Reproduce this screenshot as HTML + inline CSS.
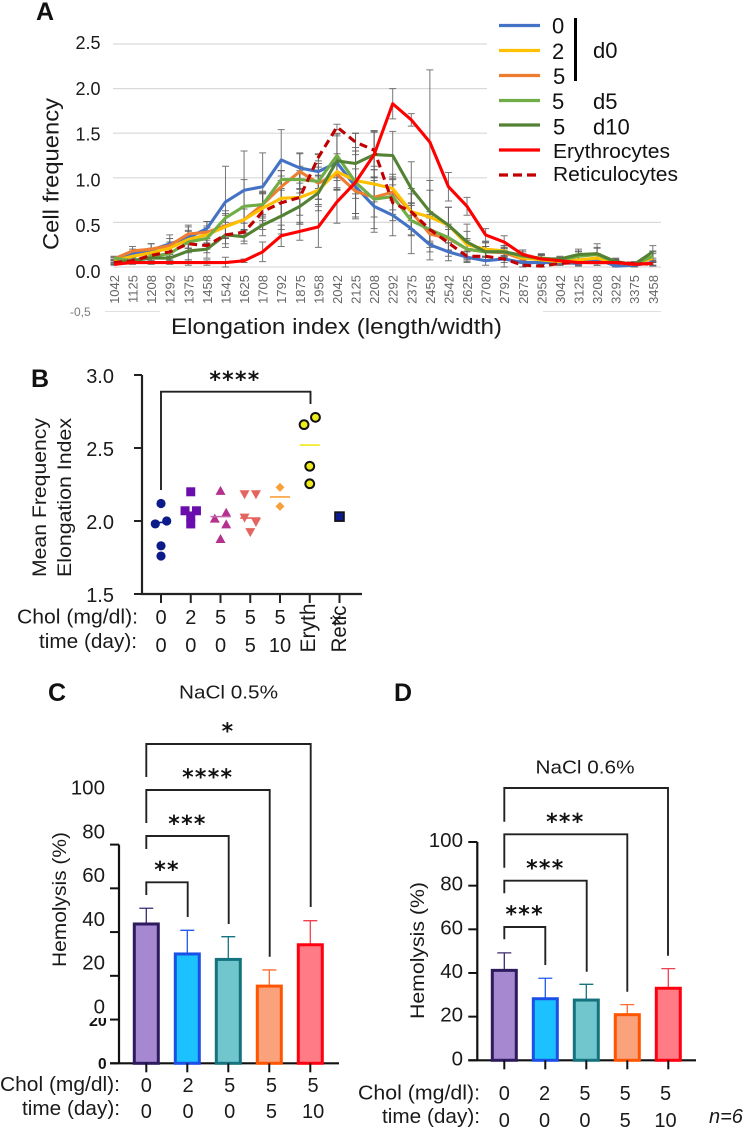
<!DOCTYPE html>
<html lang="en">
<head>
<meta charset="utf-8">
<title>Elongation index and hemolysis figure</title>
<style>
html,body{margin:0;padding:0;background:#fff;}
svg{display:block;font-family:"Liberation Sans",sans-serif;}
.ltr{font-weight:bold;font-size:25px;fill:#111;}
.ax{font-size:20px;fill:#1a1a1a;}
.star{font-family:"DejaVu Sans",sans-serif;font-weight:bold;font-size:22px;fill:#111;text-anchor:middle;letter-spacing:1.3px;}
.brk{fill:none;stroke:#222;stroke-width:1.9;}
</style>
</head>
<body>
<svg id="fig" xmlns="http://www.w3.org/2000/svg" width="751" height="1139" viewBox="0 0 751 1139">
  <rect x="0" y="0" width="751" height="1139" fill="#ffffff"/>

  <!-- Panel A static -->
  <text class="ltr" x="36" y="20">A</text>
  <g id="a-grid"></g>
  <g id="a-err"></g>
  <g id="a-lines"></g>
  <g id="a-ticks"></g>
  <text transform="translate(58.5,250) rotate(-90)" font-size="22.5" fill="#1a1a1a" textLength="152" lengthAdjust="spacingAndGlyphs">Cell frequency</text>
  <text x="171" y="334" font-size="22" fill="#1a1a1a" textLength="331" lengthAdjust="spacingAndGlyphs">Elongation index (length/width)</text>
  <text x="70" y="316" font-size="12" fill="#7a7a7a">-0,5</text>
  <line x1="105" y1="311.5" x2="160" y2="311.5" stroke="#e0e0e0"/>
  <line x1="543" y1="311.5" x2="661" y2="311.5" stroke="#e0e0e0"/>

  <!-- Legend -->
  <g>
    <line x1="499" y1="25.5" x2="540" y2="25.5" stroke="#4472c4" stroke-width="3.2"/>
    <line x1="499" y1="50.5" x2="540" y2="50.5" stroke="#ffc000" stroke-width="3.2"/>
    <line x1="499" y1="75.5" x2="540" y2="75.5" stroke="#ed7d31" stroke-width="3.2"/>
    <line x1="499" y1="100.5" x2="540" y2="100.5" stroke="#70ad47" stroke-width="3.2"/>
    <line x1="499" y1="125" x2="540" y2="125" stroke="#548235" stroke-width="3.2"/>
    <line x1="499" y1="150" x2="540" y2="150" stroke="#ff0000" stroke-width="3.2"/>
    <line x1="499" y1="175" x2="540" y2="175" stroke="#c00000" stroke-width="3.2" stroke-dasharray="9 5"/>
    <text x="552" y="33.5" font-size="22" fill="#111">0</text>
    <text x="552" y="59" font-size="22" fill="#111">2</text>
    <text x="553" y="84" font-size="22" fill="#111">5</text>
    <text x="552" y="109" font-size="22" fill="#111">5</text>
    <text x="553" y="134.5" font-size="22" fill="#111">5</text>
    <rect x="574" y="18" width="3" height="63" fill="#000"/>
    <text x="593" y="58" font-size="22" fill="#111">d0</text>
    <text x="593" y="109" font-size="22" fill="#111">d5</text>
    <text x="593" y="134.5" font-size="22" fill="#111">d10</text>
    <text x="553" y="158" font-size="20" fill="#111" textLength="117" lengthAdjust="spacingAndGlyphs">Erythrocytes</text>
    <text x="553" y="181" font-size="20" fill="#111" textLength="125" lengthAdjust="spacingAndGlyphs">Reticulocytes</text>
  </g>

  <!-- Panel B static -->
  <text class="ltr" x="31" y="387">B</text>
  <text transform="translate(46,577) rotate(-90)" font-size="19" fill="#1a1a1a" textLength="159" lengthAdjust="spacingAndGlyphs">Mean Frequency</text>
  <text transform="translate(71,577) rotate(-90)" font-size="19" fill="#1a1a1a" textLength="159" lengthAdjust="spacingAndGlyphs">Elongation Index</text>
  <g id="b-axes"></g>
  <g id="b-points"></g>
  <path class="brk" d="M161 490V391.7H310.5V404"/>
  <text class="star" x="235" y="387">****</text>
  <text class="ax" x="17" y="623.5" textLength="121" lengthAdjust="spacingAndGlyphs">Chol (mg/dl):</text>
  <text class="ax" x="39" y="648" textLength="98" lengthAdjust="spacingAndGlyphs">time (day):</text>
  <text transform="translate(315,652.5) rotate(-90)" font-size="21" fill="#1a1a1a" textLength="49" lengthAdjust="spacingAndGlyphs">Eryth</text>
  <text transform="translate(346,652.5) rotate(-90)" font-size="21" fill="#1a1a1a" textLength="47" lengthAdjust="spacingAndGlyphs">Retic</text>
  <text x="331" y="626" font-size="19" fill="#1a1a1a">×</text>

  <!-- Panel C static -->
  <text class="ltr" x="48" y="701">C</text>
  <text x="179" y="698.5" font-size="18.5" fill="#1a1a1a" textLength="99" lengthAdjust="spacingAndGlyphs">NaCl 0.5%</text>
  <text transform="translate(66,967) rotate(-90)" font-size="19.5" fill="#1a1a1a" textLength="135" lengthAdjust="spacingAndGlyphs">Hemolysis (%)</text>
  <g id="c-chart"></g>
  <clipPath id="c-clip"><rect x="85" y="1018" width="30" height="10"/></clipPath>
  <text x="89" y="1026" font-size="16" font-weight="bold" fill="#111" clip-path="url(#c-clip)">20</text>
  <text x="98" y="1069" font-size="15.5" font-weight="bold" fill="#111">0</text>
  <path class="brk" d="M146.3 895V882.3H187.7V917"/>
  <path class="brk" d="M146.3 849V836H228.7V924"/>
  <path class="brk" d="M146.3 823V790H269.7V956.7"/>
  <path class="brk" d="M146.3 777V744H310.7V907"/>
  <text class="star" x="167" y="877">**</text>
  <text class="star" x="187.5" y="831">***</text>
  <text class="star" x="207.7" y="784.5">****</text>
  <text class="star" x="228" y="738.5">*</text>
  <text class="ax" x="0" y="1091" textLength="120" lengthAdjust="spacingAndGlyphs">Chol (mg/dl):</text>
  <text class="ax" x="22" y="1115" textLength="98" lengthAdjust="spacingAndGlyphs">time (day):</text>

  <!-- Panel D static -->
  <text class="ltr" x="394" y="701">D</text>
  <text x="535.5" y="773.5" font-size="18.5" fill="#1a1a1a" textLength="99" lengthAdjust="spacingAndGlyphs">NaCl 0.6%</text>
  <text transform="translate(424,1019) rotate(-90)" font-size="19.5" fill="#1a1a1a" textLength="137" lengthAdjust="spacingAndGlyphs">Hemolysis (%)</text>
  <g id="d-chart"></g>
  <path class="brk" d="M504.3 939.3V927H545.3V965"/>
  <path class="brk" d="M504.3 893.3V880.7H586.7V971.7"/>
  <path class="brk" d="M504.3 867.7V834.3H627.3V991.7"/>
  <path class="brk" d="M504.3 821.7V788H668V955.7"/>
  <text class="star" x="524.7" y="921.5">***</text>
  <text class="star" x="545.3" y="875.5">***</text>
  <text class="star" x="565.3" y="829">***</text>
  <text class="ax" x="358" y="1099.5" textLength="122" lengthAdjust="spacingAndGlyphs">Chol (mg/dl):</text>
  <text class="ax" x="382" y="1123" textLength="98" lengthAdjust="spacingAndGlyphs">time (day):</text>
  <text x="709" y="1123" font-size="20" font-style="italic" fill="#1a1a1a">n=6</text>
</svg>

<script>
/* ---------- Panel A data ---------- */
const aCategories = [1042,1125,1208,1292,1375,1458,1542,1625,1708,1792,1875,1958,2042,2125,2208,2292,2375,2458,2542,2625,2708,2792,2875,2958,3042,3125,3208,3292,3375,3458];
const aYTicks = [0,0.5,1,1.5,2,2.5];
const aChol0 = [.08,.15,.19,.26,.33,.43,.73,.86,.9,1.2,1.11,1.07,1.17,.9,.68,.58,.43,.25,.17,.11,.07,.09,.05,.05,.05,.04,.09,.01,.02,.05];
const aChol2 = [.07,.12,.16,.21,.31,.36,.45,.53,.66,.77,.78,.86,1.07,.97,.93,.88,.62,.56,.47,.25,.2,.18,.1,.08,.06,.08,.1,.05,.03,.1];
const aChol5D0 = [.09,.18,.2,.24,.37,.39,.46,.53,.7,.9,1.07,.94,1.04,.85,.78,.84,.62,.37,.32,.2,.17,.16,.09,.1,.08,.13,.15,.05,.03,.12];
const aChol5D5 = [.1,.07,.12,.15,.28,.32,.55,.68,.7,.98,.98,.96,1.25,.95,.76,.79,.52,.42,.33,.2,.17,.17,.12,.1,.08,.12,.14,.05,.03,.12];
const aChol5D10 = [.05,.07,.1,.1,.18,.2,.36,.34,.47,.57,.68,.83,1.19,1.16,1.26,1.25,.88,.62,.47,.28,.17,.17,.13,.09,.09,.14,.15,.06,.03,.17];
const aEryth = [.03,.05,.05,.05,.05,.05,.05,.07,.17,.35,.4,.45,.73,.95,1.26,1.83,1.65,1.4,.9,.68,.36,.28,.14,.09,.07,.05,.05,.05,.03,.04];
const aRetic = [.05,.07,.13,.17,.26,.24,.36,.39,.62,.72,.78,1.23,1.57,1.4,1.31,.72,.62,.42,.27,.12,.12,.09,.02,.01,.04,.05,.05,.05,.04,.03];
const aErrChol0 = [.03,.05,.07,.1,.12,.08,.4,.44,.38,.34,.17,.19,.3,.36,.29,.23,.28,.17,.1,.06,.05,.1,.06,.05,.03,.03,.04,.04,.02,.03];
const aErrChol2 = [.02,.04,.05,.07,.1,.1,.13,.15,.18,.2,.2,.16,.2,.2,.2,.13,.26,.3,.2,.15,.08,.06,.05,.05,.03,.04,.05,.03,.02,.05];
const aErrChol5D0 = [.02,.05,.06,.08,.1,.12,.14,.12,.15,.18,.2,.18,.18,.25,.22,.2,.2,.2,.13,.12,.06,.05,.05,.04,.03,.05,.06,.03,.02,.05];
const aErrChol5D5 = [.02,.03,.05,.07,.12,.12,.08,.3,.13,.1,.15,.2,.25,.35,.33,.2,.17,.13,.15,.1,.06,.05,.05,.05,.03,.05,.08,.04,.02,.06];
const aErrChol5D10 = [.02,.03,.05,.06,.1,.1,.14,.08,.12,.2,.2,.2,.3,.34,.25,.27,.3,.35,.2,.2,.1,.07,.06,.05,.03,.06,.11,.04,.02,.07];
const aErrEryth = [.01,.02,.02,.02,.03,.03,.06,.02,.11,.12,.1,.23,.24,.39,.26,.17,.07,.81,.16,.1,.07,.07,.05,.04,.02,.03,.03,.02,.01,.02];
const aErrRetic = [.02,.03,.03,.05,.05,.08,.1,.1,.2,.3,.3,.04,.03,.1,.22,.2,.1,.2,.15,.06,.05,.04,.02,.02,.02,.03,.03,.03,.02,.02];

/* ---------- Panel B data ---------- */
const bYTicks = [1.5,2,2.5,3];
const bChol = ["0","2","5","5","5"];
const bTime = ["0","0","0","5","10"];
const bGroup0 = [2.12,2.0,1.98,1.83,1.76];
const bGroup2 = [2.2,2.07,2.07,2.03,1.98];
const bGroup5D0 = [2.21,2.06,2.02,1.98,1.88];
const bGroup5D5 = [2.18,2.18,2.02,1.99,1.92];
const bGroup5D10 = [2.23,2.1];
const bEryth = [2.71,2.66,2.375,2.255];
const bRetic = [2.03];
const bMeans = [1.99,2.06,2.03,2.02,2.165,2.52,2.03];
const bSlots0 = [0,1,-1,0,0];
const bSlots2 = [0,-1,1,0,0];
const bSlots5D0 = [0,1,-1,1,0];
const bSlots5D5 = [-1,1,-1,1,0];
const bSlots5D10 = [0,0];
const bSlotsEryth = [1,-1,0,0];
const bSlotsRetic = [0];

/* ---------- Panels C and D data ---------- */
const hemoTicks = [0,20,40,60,80,100];
const hemoChol = ["0","2","5","5","5"];
const hemoTime = ["0","0","0","5","10"];
const cValues = [63.7,50,47.5,35.3,54.2];
const cErrors = [7.2,10.8,10.4,7.4,11];
const dValues = [41.2,28.2,27.6,20.9,33];
const dErrors = [8,9.4,7.2,4.6,9];

/* ---------- helpers ---------- */
const NS = 'http://www.w3.org/2000/svg';
function svgEl(tag, attrs, parent) {
  const e = document.createElementNS(NS, tag);
  for (const k in attrs) e.setAttribute(k, attrs[k]);
  parent.appendChild(e);
  return e;
}
const $ = id => document.getElementById(id);

/* ---------- Panel A ---------- */
const ax = i => 114 + i * 18.58;
const ay = v => 267 - v * 89.2;
const aLabelY = v => 278 - v * 91.6;

aYTicks.forEach(t => {
  const xEnd = t <= 0.5 ? 661 : 487;
  const grid = svgEl('line', {x1: 113, x2: xEnd, y1: ay(t), y2: ay(t), stroke: '#d9d9d9', 'stroke-width': 1.2}, $('a-grid'));
  
  
  const lab = svgEl('text', {x: 100.5, y: aLabelY(t), 'text-anchor': 'end', 'font-size': 18, fill: '#1a1a1a'}, $('a-ticks'));
  lab.textContent = t.toFixed(1);
  
  
});

aCategories.forEach((c, i) => {
  const lab = svgEl('text', {transform: 'translate(' + (ax(i) + 5) + ',275) rotate(-90)', 'text-anchor': 'end', 'font-size': 13, fill: '#666666'}, $('a-ticks'));
  lab.textContent = c;
  
  
});

const aSeries = [
  {key: 'chol-0', v: aChol0, e: aErrChol0, c: '#4472c4'},
  {key: 'chol-5-d0', v: aChol5D0, e: aErrChol5D0, c: '#ed7d31'},
  {key: 'chol-2', v: aChol2, e: aErrChol2, c: '#ffc000'},
  {key: 'chol-5-d5', v: aChol5D5, e: aErrChol5D5, c: '#70ad47'},
  {key: 'chol-5-d10', v: aChol5D10, e: aErrChol5D10, c: '#548235'},
  {key: 'reticulocytes', v: aRetic, e: aErrRetic, c: '#c00000', dash: '8 5'},
  {key: 'erythrocytes', v: aEryth, e: aErrEryth, c: '#ff0000'}
];

aSeries.forEach(s => {
  s.v.forEach((v, i) => {
    const top = ay(v + s.e[i]), bot = ay(Math.max(v - s.e[i], 0));
    const x = ax(i);
    const eb = svgEl('path', {d: 'M' + x + ' ' + top + 'V' + bot + 'M' + (x - 3.5) + ' ' + top + 'H' + (x + 3.5) + 'M' + (x - 3.5) + ' ' + bot + 'H' + (x + 3.5), stroke: '#5f5f5f', 'stroke-width': 1, fill: 'none', opacity: 0.85}, $('a-err'));
    
    
  });
  const attrs = {points: s.v.map((v, i) => ax(i) + ',' + ay(v)).join(' '), fill: 'none', stroke: s.c, 'stroke-width': 3.1, 'stroke-linejoin': 'round'};
  if (s.dash) attrs['stroke-dasharray'] = s.dash;
  const line = svgEl('polyline', attrs, $('a-lines'));
  
  
});

/* ---------- Panel B ---------- */
const bx = i => 161 + i * 29.75;
const by = v => 521 - (v - 2) * 146;
const bAxes = $('b-axes');

const bYLine = svgEl('path', {d: 'M142 ' + by(3) + 'V' + by(1.5) + 'H362', stroke: '#222', 'stroke-width': 2.2, fill: 'none'}, bAxes);



bYTicks.forEach(t => {
  const tick = svgEl('line', {x1: 134, x2: 142, y1: by(t), y2: by(t), stroke: '#222', 'stroke-width': 2}, bAxes);
  
  
  const lab = svgEl('text', {x: 114, y: by(t) + 8, 'text-anchor': 'end', 'font-size': 20, fill: '#1a1a1a'}, bAxes);
  lab.textContent = t.toFixed(1);
  
  
});

for (let i = 0; i < 7; i++) {
  const tick = svgEl('line', {x1: bx(i), x2: bx(i), y1: 594, y2: 603, stroke: '#222', 'stroke-width': 2}, bAxes);
  
  
}

bChol.forEach((t, i) => {
  const lab = svgEl('text', {x: bx(i), y: 624, 'text-anchor': 'middle', 'font-size': 20, fill: '#1a1a1a'}, bAxes);
  lab.textContent = t;
  
  
});
bTime.forEach((t, i) => {
  const lab = svgEl('text', {x: bx(i), y: 652, 'text-anchor': 'middle', 'font-size': 20, fill: '#1a1a1a'}, bAxes);
  lab.textContent = t;
  
  
});

function marker(shape, x, y, color, parent) {
  if (shape === 'circle') return svgEl('circle', {cx: x, cy: y, r: 4.6, fill: color}, parent);
  if (shape === 'ring') return svgEl('circle', {cx: x, cy: y, r: 4.4, fill: color, stroke: '#111', 'stroke-width': 2}, parent);
  if (shape === 'square') return svgEl('rect', {x: x - 4.5, y: y - 4.5, width: 9, height: 9, fill: color}, parent);
  if (shape === 'boxed') return svgEl('rect', {x: x - 4.5, y: y - 4.5, width: 9, height: 9, fill: color, stroke: '#111', 'stroke-width': 1.6}, parent);
  if (shape === 'up') return svgEl('polygon', {points: (x - 5) + ',' + (y + 4.5) + ' ' + (x + 5) + ',' + (y + 4.5) + ' ' + x + ',' + (y - 4.5), fill: color}, parent);
  if (shape === 'down') return svgEl('polygon', {points: (x - 5) + ',' + (y - 4.5) + ' ' + (x + 5) + ',' + (y - 4.5) + ' ' + x + ',' + (y + 4.5), fill: color}, parent);
  return svgEl('polygon', {points: (x - 4.5) + ',' + y + ' ' + x + ',' + (y - 4.5) + ' ' + (x + 4.5) + ',' + y + ' ' + x + ',' + (y + 4.5), fill: color}, parent);
}

const bGroups = [
  {key: 'chol-0-d0', v: bGroup0, s: bSlots0, shape: 'circle', c: '#0c1a8a', lc: '#0c1a8a'},
  {key: 'chol-2-d0', v: bGroup2, s: bSlots2, shape: 'square', c: '#6a0dad', lc: '#6a0dad'},
  {key: 'chol-5-d0', v: bGroup5D0, s: bSlots5D0, shape: 'up', c: '#b5308f', lc: '#c668ae'},
  {key: 'chol-5-d5', v: bGroup5D5, s: bSlots5D5, shape: 'down', c: '#e4655f', lc: '#e4655f'},
  {key: 'chol-5-d10', v: bGroup5D10, s: bSlots5D10, shape: 'diamond', c: '#f7a03c', lc: '#f7a03c'},
  {key: 'erythrocytes', v: bEryth, s: bSlotsEryth, shape: 'ring', c: '#f0ec1c', lc: '#f0ec1c'},
  {key: 'reticulocytes', v: bRetic, s: bSlotsRetic, shape: 'boxed', c: '#0c1a8a', lc: '#0c1a8a'}
];

bGroups.forEach((g, gi) => {
  g.v.forEach((v, i) => {
    const pt = marker(g.shape, bx(gi) + g.s[i] * 5.7, by(v), g.c, $('b-points'));
    
    
  });
  if (g.v.length > 1) {
    const mean = svgEl('line', {x1: bx(gi) - 10, x2: bx(gi) + 10, y1: by(bMeans[gi]), y2: by(bMeans[gi]), stroke: g.lc, 'stroke-width': 1.6}, $('b-points'));
    
    
  }
});

/* ---------- Panels C and D ---------- */
const barFill = ['#a588d0', '#1cc2ff', '#70c6cc', '#faa27c', '#ff7b85'];
const barStroke = ['#2e1a5e', '#1a4fe8', '#14737f', '#ff5500', '#ff0010'];
const errStroke = ['#3b2a6e', '#1f5af0', '#14737f', '#ff6a30', '#f04050'];

function barChart(opt) {
  const g = $(opt.host);
  const x = i => opt.x0 + i * opt.dx;
  const y = v => opt.y0 - v * opt.k;

  const axisLine = svgEl('path', {d: 'M' + opt.axisX + ' ' + y(100) + 'V' + opt.y0 + 'M' + (opt.axisX - 9) + ' ' + opt.y0 + 'H' + opt.xEnd, stroke: '#111', 'stroke-width': 2.2, fill: 'none'}, g);
  
  

  hemoTicks.forEach(t => {
    const tick = svgEl('line', {x1: opt.axisX - 9, x2: opt.axisX, y1: y(t), y2: y(t), stroke: '#111', 'stroke-width': 2}, g);
    
    
    const lab = svgEl('text', {x: opt.labelX, y: y(t) + opt.labelShift + 7.5, 'text-anchor': 'end', 'font-size': 20.5, fill: '#1a1a1a'}, g);
    lab.textContent = t;
    
    
  });

  opt.values.forEach((v, i) => {
    const err = svgEl('path', {d: 'M' + x(i) + ' ' + y(v) + 'V' + y(v + opt.errors[i]) + 'M' + (x(i) - 7) + ' ' + y(v + opt.errors[i]) + 'H' + (x(i) + 7), stroke: errStroke[i], 'stroke-width': 1.3, fill: 'none'}, g);
    
    
    const bar = svgEl('rect', {x: x(i) - 12, y: y(v), width: 24, height: v * opt.k, fill: barFill[i], stroke: barStroke[i], 'stroke-width': 3}, g);
    
    
    const tick = svgEl('line', {x1: x(i), x2: x(i), y1: opt.y0, y2: opt.y0 + 9, stroke: '#111', 'stroke-width': 2}, g);
    
    
  });

  hemoChol.forEach((t, i) => {
    const lab = svgEl('text', {x: x(i) + i * opt.labelDrift, y: opt.rowChol, 'text-anchor': 'middle', 'font-size': 20, fill: '#1a1a1a'}, g);
    lab.textContent = t;
    
    
  });
  hemoTime.forEach((t, i) => {
    const lab = svgEl('text', {x: x(i) + i * opt.labelDrift, y: opt.rowTime, 'text-anchor': 'middle', 'font-size': 20, fill: '#1a1a1a'}, g);
    lab.textContent = t;
    
    
  });
}

barChart({host: 'c-chart', name: 'panel-c', values: cValues, errors: cErrors, x0: 146.3, dx: 41, y0: 1063.3, k: 2.187, axisX: 119, xEnd: 339, labelX: 105, labelShift: -57.5, labelDrift: 0.7, rowChol: 1092, rowTime: 1118});
barChart({host: 'd-chart', name: 'panel-d', values: dValues, errors: dErrors, x0: 504.3, dx: 41, y0: 1060.3, k: 2.183, axisX: 477.3, xEnd: 696, labelX: 463, labelShift: -2.5, labelDrift: -0.7, rowChol: 1100, rowTime: 1127});
</script>
</body>
</html>
